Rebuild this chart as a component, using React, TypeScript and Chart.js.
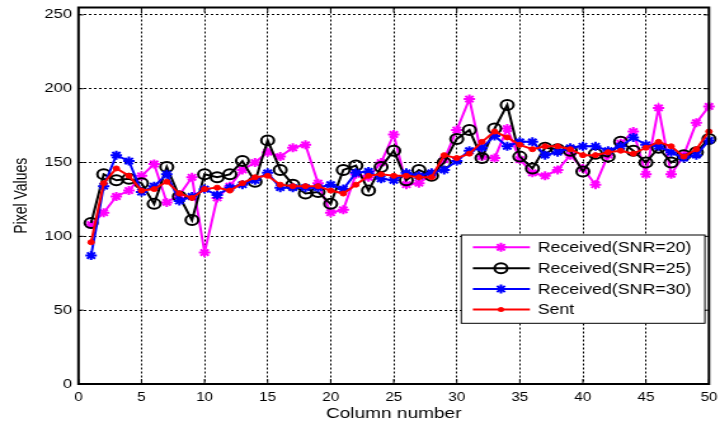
import React, { useEffect, useRef } from 'react';
import { Chart, registerables } from 'chart.js';

Chart.register(...registerables);

const columns = [1, 2, 3, 4, 5, 6, 7, 8, 9, 10, 11, 12, 13, 14, 15, 16, 17, 18, 19, 20, 21, 22, 23, 24, 25, 26, 27, 28, 29, 30, 31, 32, 33, 34, 35, 36, 37, 38, 39, 40, 41, 42, 43, 44, 45, 46, 47, 48, 49, 50];

const snr20 = [108, 116, 127, 131, 141, 149, 123, 128, 140, 89, 126, 134, 145, 150, 157, 154, 160, 162, 136, 116, 118, 142, 140, 150, 169, 135, 136, 142, 152, 172, 193, 154, 153, 173, 152, 143, 141, 145, 155, 146, 135, 155, 163, 171, 142, 187, 142, 155, 177, 188];
const snr25 = [109, 142, 138, 139, 136, 122, 147, 127, 111, 142, 140, 142, 151, 137, 165, 145, 135, 129, 130, 122, 145, 148, 131, 147, 158, 138, 145, 141, 150, 166, 172, 153, 173, 189, 154, 146, 160, 159, 158, 144, 156, 154, 164, 158, 150, 160, 150, 155, 157, 166];
const snr30 = [87, 134, 155, 151, 130, 134, 142, 124, 127, 132, 128, 133, 135, 138, 143, 133, 133, 133, 133, 135, 132, 143, 144, 139, 138, 143, 141, 143, 145, 151, 158, 160, 168, 161, 164, 164, 155, 157, 160, 161, 161, 158, 161, 167, 162, 161, 157, 153, 155, 165];
const sent = [96, 136, 146, 141, 131, 132, 137, 129, 126, 132, 133, 131, 136, 140, 141, 135, 134, 134, 134, 131, 129, 135, 141, 142, 141, 141, 140, 140, 155, 153, 156, 164, 171, 167, 162, 159, 161, 161, 159, 155, 155, 157, 158, 156, 160, 164, 161, 154, 159, 171];

const xTicks = [0, 5, 10, 15, 20, 25, 30, 35, 40, 45, 50];
const yTicks = [0, 50, 100, 150, 200, 250];
const seriesNames = ['Received(SNR=20)', 'Received(SNR=25)', 'Received(SNR=30)', 'Sent'];
const xTitle = 'Column number';
const yTitle = 'Pixel Values';

// the reference is horizontally stretched; draw on a narrower canvas and stretch it with CSS
const SX = 1.27;
const W = 720;
const H = 428;
const IW = Math.round(W / SX);

const FONT = "'Liberation Sans', Arial, sans-serif";

const colors = ['#ff00ff', '#000000', '#0000ff', '#ff0000'];
const markers = ['star', 'circle', 'star', 'dot'];

function drawMarker(ctx: CanvasRenderingContext2D, kind: string, x: number, y: number, color: string) {
  ctx.save();
  ctx.setLineDash([]);
  ctx.strokeStyle = color;
  ctx.fillStyle = color;
  if (kind === 'star') {
    const r = 4.5;
    ctx.lineWidth = 2;
    ctx.beginPath();
    ctx.moveTo(x - r, y); ctx.lineTo(x + r, y);
    ctx.moveTo(x, y - r); ctx.lineTo(x, y + r);
    const d = r * 0.7;
    ctx.moveTo(x - d, y - d); ctx.lineTo(x + d, y + d);
    ctx.moveTo(x - d, y + d); ctx.lineTo(x + d, y - d);
    ctx.stroke();
  } else if (kind === 'circle') {
    ctx.lineWidth = 2;
    ctx.beginPath();
    ctx.arc(x, y, 5, 0, Math.PI * 2);
    ctx.stroke();
  } else {
    ctx.beginPath();
    ctx.arc(x, y, 2.5, 0, Math.PI * 2);
    ctx.fill();
  }
  ctx.restore();
}

const boxLegendPlugin = {
  id: 'boxLegend',
  afterDraw(chart: any) {
    const ctx: CanvasRenderingContext2D = chart.ctx;
    const { left, right, top, bottom } = chart.chartArea;
    ctx.save();
    ctx.setLineDash([]);
    ctx.strokeStyle = '#000';
    ctx.lineWidth = 1;
    ctx.beginPath();
    xTicks.forEach((v) => {
      const px = chart.scales.x.getPixelForValue(v);
      ctx.moveTo(px, bottom); ctx.lineTo(px, bottom - 5);
      ctx.moveTo(px, top); ctx.lineTo(px, top + 5);
    });
    yTicks.forEach((v) => {
      const py = chart.scales.y.getPixelForValue(v);
      ctx.moveTo(left, py); ctx.lineTo(left + 4, py);
      ctx.moveTo(right, py); ctx.lineTo(right - 4, py);
    });
    ctx.stroke();
    ctx.lineWidth = 2;
    ctx.strokeRect(left, top, right - left, bottom - top);

    const lx0 = 363.3;
    const ly0 = 235;
    const lx1 = 555.1;
    const ly1 = 323.3;
    ctx.fillStyle = '#fff';
    ctx.fillRect(lx0, ly0, lx1 - lx0, ly1 - ly0);
    ctx.lineWidth = 1;
    ctx.strokeStyle = '#000';
    ctx.strokeRect(lx0, ly0, lx1 - lx0, ly1 - ly0);
    const rows = [247.3, 268.3, 289.0, 309.5];
    ctx.font = `14px ${FONT}`;
    ctx.textBaseline = 'middle';
    ctx.textAlign = 'left';
    seriesNames.forEach((name, i) => {
      const y = rows[i];
      ctx.strokeStyle = colors[i];
      ctx.lineWidth = 2;
      ctx.beginPath();
      ctx.moveTo(372.4, y);
      ctx.lineTo(417.3, y);
      ctx.stroke();
      drawMarker(ctx, markers[i], 394.5, y, colors[i]);
      ctx.fillStyle = '#000';
      ctx.fillText(name, 423.4, y + 1);
    });
    ctx.restore();
  },
};

function toPoints(vals: number[]) {
  return columns.map((c, i) => ({ x: c, y: vals[i] }));
}

export default function App() {
  const ref = useRef<HTMLCanvasElement>(null);
  useEffect(() => {
    if (!ref.current) return;
    const chart = new Chart(ref.current, {
      type: 'line',
      data: {
        datasets: [
          { label: seriesNames[0], data: toPoints(snr20), borderColor: colors[0], backgroundColor: colors[0], borderWidth: 2, pointStyle: 'star', pointRadius: 4.5, pointBorderWidth: 2, tension: 0, clip: false, order: 4 },
          { label: seriesNames[1], data: toPoints(snr25), borderColor: colors[1], backgroundColor: 'rgba(0,0,0,0)', pointBackgroundColor: 'rgba(0,0,0,0)', borderWidth: 2, pointStyle: 'circle', pointRadius: 5, pointBorderWidth: 2, tension: 0, clip: false, order: 3 },
          { label: seriesNames[2], data: toPoints(snr30), borderColor: colors[2], backgroundColor: colors[2], borderWidth: 2, pointStyle: 'star', pointRadius: 4.5, pointBorderWidth: 2, tension: 0, clip: false, order: 2 },
          { label: seriesNames[3], data: toPoints(sent), borderColor: colors[3], backgroundColor: colors[3], pointBackgroundColor: colors[3], borderWidth: 2, pointStyle: 'circle', pointRadius: 2.5, pointBorderWidth: 1, tension: 0, clip: false, order: 1 },
        ],
      } as any,
      options: {
        animation: false,
        responsive: false,
        devicePixelRatio: 1,
        layout: { padding: { left: 0, right: IW - 558.3, top: 7.5, bottom: 0 } },
        plugins: { legend: { display: false }, tooltip: { enabled: false } },
        scales: {
          x: {
            type: 'linear', min: 0, max: 50,
            afterBuildTicks: (s: any) => { s.ticks = xTicks.map((v) => ({ value: v })); },
            afterFit: (s: any) => { s.height = 44; s.paddingLeft = 0; s.paddingRight = 0; s.paddingTop = 0; s.paddingBottom = 0; },
            grid: { color: '#000', lineWidth: 1, drawTicks: false },
            border: { display: false, dash: [2, 2] },
            ticks: { color: '#000', font: { family: FONT, size: 12 }, padding: 6, maxRotation: 0, autoSkip: false },
            title: { display: true, text: xTitle, color: '#000', font: { family: FONT, size: 15 }, padding: { top: 0, bottom: 5 } },
          },
          y: {
            type: 'linear', min: 0, max: 255,
            afterBuildTicks: (s: any) => { s.ticks = yTicks.map((v) => ({ value: v })); },
            afterFit: (s: any) => { s.width = 61.8; s.paddingLeft = 0; s.paddingRight = 0; s.paddingTop = 0; s.paddingBottom = 0; },
            grid: { color: '#000', lineWidth: 1, drawTicks: false },
            border: { display: false, dash: [2, 2] },
            ticks: { color: '#000', font: { family: FONT, size: 13 }, padding: 5, autoSkip: false },
            title: { display: true, text: yTitle, color: '#000', font: { family: FONT, size: 14 }, padding: { top: 9, bottom: 0 } },
          },
        },
      } as any,
      plugins: [boxLegendPlugin],
    });
    return () => chart.destroy();
  }, []);

  return (
    <div style={{ position: 'fixed', left: 0, top: 0, width: W, height: H, background: '#fff' }}>
      <canvas ref={ref} width={IW} height={H} style={{ width: `${W}px`, height: `${H}px`, display: 'block' }} />
    </div>
  );
}
